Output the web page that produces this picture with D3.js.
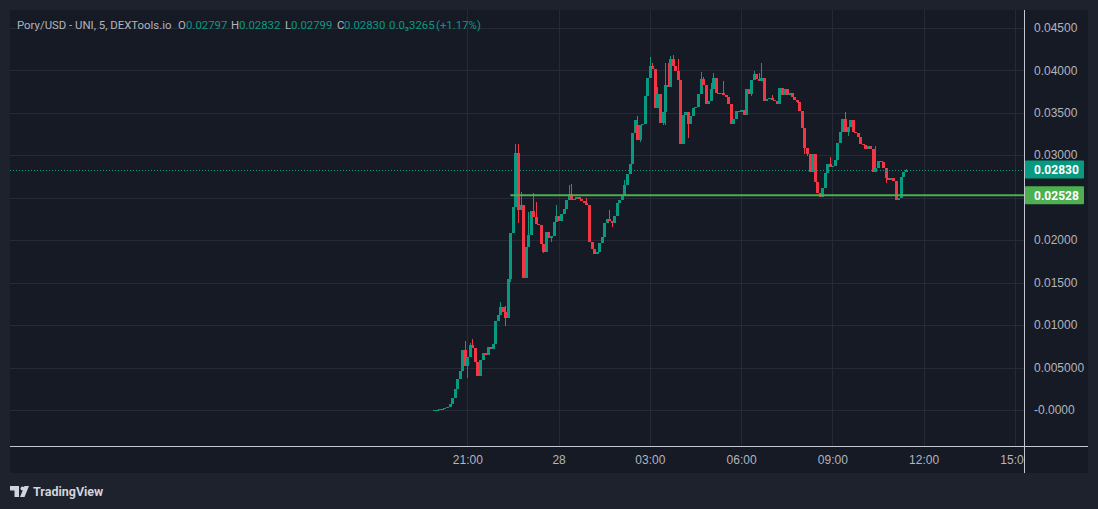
<!DOCTYPE html>
<html>
<head>
<meta charset="utf-8">
<script src="https://cdn.jsdelivr.net/npm/d3@7"></script>
<style>
  html, body { margin: 0; padding: 0; background: #1e222d; }
  svg { display: block; font-family: Roboto, sans-serif; }
</style>
</head>
<body>
<div id="chart"></div>
<script>
// 5 minute bars, first bar at 19:55 on the 27th
const firstBar = new Date(Date.UTC(2024, 0, 27, 19, 55));
const barMinutes = 5;

const opens = [
  0.00000,0.00003,0.00005,0.00008,0.00014,0.00021,0.00041,0.00070,0.00141,0.00247,
  0.00364,0.00458,0.00705,0.00517,0.00623,0.00764,0.00729,0.00564,0.00400,0.00588,
  0.00670,0.00646,0.00740,0.00717,0.00776,0.01046,0.01116,0.01210,0.01152,0.01081,
  0.01539,0.02080,0.02385,0.03020,0.02350,0.02409,0.01551,0.01915,0.02056,0.02338,
  0.02268,0.02186,0.02174,0.01950,0.01857,0.02092,0.02021,0.02044,0.02209,0.02280,
  0.02221,0.02303,0.02362,0.02468,0.02538,0.02468,0.02479,0.02503,0.02479,0.02456,
  0.02432,0.02409,0.01974,0.01892,0.01833,0.01857,0.01962,0.02033,0.02197,0.02244,
  0.02221,0.02197,0.02280,0.02432,0.02468,0.02526,0.02644,0.02773,0.02891,0.03255,
  0.03349,0.03184,0.03349,0.03361,0.03701,0.03913,0.04054,0.04019,0.03549,0.03725,
  0.03384,0.03502,0.03831,0.03807,0.04136,0.04054,0.03995,0.03889,0.03126,0.03478,
  0.03513,0.03361,0.03466,0.03549,0.03572,0.03725,0.03901,0.03831,0.03596,0.03643,
  0.03784,0.03913,0.03737,0.03725,0.03737,0.03713,0.03690,0.03607,0.03372,0.03431,
  0.03525,0.03513,0.03537,0.03478,0.03784,0.03725,0.03889,0.03960,0.03901,0.03878,
  0.03913,0.03643,0.03666,0.03678,0.03654,0.03643,0.03596,0.03795,0.03713,0.03784,
  0.03713,0.03737,0.03690,0.03654,0.03631,0.03525,0.03314,0.03079,0.03008,0.02797,
  0.03008,0.02679,0.02550,0.02503,0.02609,0.02785,0.02891,0.02855,0.02867,0.02938,
  0.03137,0.03267,0.03431,0.03278,0.03337,0.03419,0.03267,0.03255,0.03208,0.03126,
  0.03114,0.03067,0.03102,0.03067,0.02797,0.02844,0.02926,0.02914,0.02844,0.02726,
  0.02703,0.02726,0.02691,0.02468,0.02491,0.02738,0.02797
];

const closes = [
  0.00003,0.00005,0.00008,0.00014,0.00021,0.00041,0.00070,0.00141,0.00247,0.00364,
  0.00458,0.00705,0.00517,0.00623,0.00764,0.00729,0.00564,0.00400,0.00588,0.00670,
  0.00646,0.00740,0.00717,0.00776,0.01046,0.01116,0.01210,0.01152,0.01081,0.01539,
  0.02080,0.02385,0.03020,0.02350,0.02409,0.01551,0.01915,0.02056,0.02338,0.02268,
  0.02186,0.02174,0.01950,0.01857,0.02092,0.02021,0.02044,0.02209,0.02280,0.02221,
  0.02303,0.02362,0.02468,0.02538,0.02468,0.02479,0.02503,0.02479,0.02456,0.02432,
  0.02409,0.01974,0.01892,0.01833,0.01857,0.01962,0.02033,0.02197,0.02244,0.02221,
  0.02197,0.02280,0.02432,0.02468,0.02526,0.02644,0.02773,0.02891,0.03255,0.03419,
  0.03184,0.03349,0.03361,0.03701,0.03913,0.04054,0.04019,0.03549,0.03725,0.03384,
  0.03502,0.03831,0.03807,0.04136,0.04054,0.03995,0.03889,0.03126,0.03478,0.03513,
  0.03361,0.03466,0.03549,0.03572,0.03725,0.03901,0.03831,0.03596,0.03643,0.03784,
  0.03913,0.03737,0.03725,0.03737,0.03713,0.03690,0.03607,0.03372,0.03431,0.03525,
  0.03513,0.03537,0.03478,0.03784,0.03725,0.03889,0.03960,0.03901,0.03878,0.03913,
  0.03643,0.03666,0.03678,0.03654,0.03643,0.03596,0.03795,0.03713,0.03784,0.03713,
  0.03737,0.03690,0.03654,0.03631,0.03525,0.03314,0.03079,0.03008,0.02797,0.03008,
  0.02679,0.02550,0.02503,0.02609,0.02785,0.02891,0.02855,0.02867,0.02938,0.03137,
  0.03267,0.03431,0.03278,0.03337,0.03419,0.03267,0.03255,0.03208,0.03126,0.03114,
  0.03067,0.03102,0.03067,0.02797,0.02844,0.02926,0.02914,0.02844,0.02726,0.02703,
  0.02726,0.02691,0.02468,0.02491,0.02738,0.02797,0.02830
];

// wick extremes; null = no wick beyond the body
const highs = [
  null,null,null,null,null,null,null,null,null,null,
  null,null,0.00811,null,0.00787,0.00834,null,null,null,null,
  null,null,null,null,null,null,0.01269,null,0.01222,null,
  null,null,0.03126,0.03126,0.02561,null,null,0.02327,null,0.02550,
  0.02444,null,null,null,null,null,null,null,0.02409,null,
  null,null,null,0.02644,0.02656,null,null,null,null,null,
  0.02491,null,null,null,null,null,null,null,null,0.02350,
  null,null,null,null,null,0.02703,null,null,null,null,
  0.03455,null,null,null,null,0.04160,0.04089,null,0.03807,null,
  null,0.04089,0.04089,0.04171,0.04183,null,0.04136,null,null,null,
  null,null,null,null,null,0.03983,0.03925,null,null,0.03854,
  0.03972,null,null,null,0.03878,null,null,null,null,null,
  null,null,null,null,null,null,0.03995,null,0.03972,0.04089,
  null,null,null,0.03713,null,null,null,null,null,null,
  null,null,null,null,null,null,null,null,null,null,
  null,null,null,null,null,null,0.02973,null,null,null,
  null,null,0.03502,null,null,null,null,null,null,null,
  null,null,null,null,0.03102,null,null,null,null,null,
  null,null,null,null,null,null,0.02832
];

const lows = [
  null,null,null,null,null,null,null,null,null,null,
  null,null,null,0.00376,null,null,null,null,null,null,
  null,null,null,null,null,null,null,null,0.00987,null,
  0.01504,null,null,0.02197,null,null,null,null,null,null,
  null,null,null,0.01845,null,null,0.01974,null,null,null,
  null,null,null,null,null,null,null,null,null,null,
  null,null,null,null,null,null,null,null,null,null,
  0.02150,null,null,null,null,null,null,null,null,null,
  0.03173,0.03149,null,null,null,null,null,null,null,null,
  0.03349,0.03349,null,null,null,null,null,null,null,null,
  0.03196,null,null,null,null,null,null,null,null,null,
  null,null,null,null,null,null,null,null,0.03361,null,
  null,null,null,null,null,0.03701,null,null,null,null,
  null,null,null,null,null,null,null,null,null,null,
  null,null,null,0.03619,null,null,0.03008,0.02984,null,null,
  null,null,null,null,null,null,null,null,null,null,
  null,null,null,0.03231,null,null,null,null,null,null,
  null,null,null,null,null,null,null,null,0.02667,null,
  null,null,null,null,null,null,0.02797
];

const priceTicks = [0, 0.005, 0.01, 0.015, 0.02, 0.025, 0.03, 0.035, 0.04, 0.045];
// the 0.02500 label sits under the level tag, so it is left blank
const priceTickLabels = ["-0.0000", "0.005000", "0.01000", "0.01500", "0.02000", "", "0.03000", "0.03500", "0.04000", "0.04500"];
const timeTicks = ["2024-01-27T21:00Z", "2024-01-28T00:00Z", "2024-01-28T03:00Z", "2024-01-28T06:00Z", "2024-01-28T09:00Z", "2024-01-28T12:00Z", "2024-01-28T15:00Z"];
const timeTickLabels = ["21:00", "28", "03:00", "06:00", "09:00", "12:00", "15:00"];

const lastPrice = 0.02830;
const levelPrice = 0.02528;
const levelStart = "2024-01-27T22:25Z";

// legend as printed on the chart
const symbolLabel = "Pory/USD - UNI, 5, DEXTools.io";
const legendKeys = ["O", "H", "L", "C"];
const legendValues = ["0.02797", "0.02832", "0.02799", "0.02830"];
const legendChange = "0.0\u20833265";
const legendPercent = "(+1.17%)";

const upColor = "#089981", downColor = "#f23645";
const gridColor = "#262a36", textColor = "#b2b5be";

const width = 1098, height = 509;
const plot = { left: 10, top: 10, right: 1024, bottom: 446 };

const svg = d3.select("#chart").append("svg")
  .attr("width", width)
  .attr("height", height);

svg.append("rect").attr("width", width).attr("height", height).attr("fill", "#1e222d");
// chart panel (plot + axes)
svg.append("rect")
  .attr("x", 10).attr("y", 10).attr("width", 1078).attr("height", 463)
  .attr("fill", "#161a25");

const midnight = new Date(Date.UTC(2024, 0, 28, 0, 0));
const xScale = d3.scaleUtc()
  .domain([d3.utcMinute.offset(midnight, -1082), d3.utcMinute.offset(midnight, 918.5)])
  .range([plot.left, plot.right]);

const yScale = d3.scaleLinear()
  .domain([0, 0.045])
  .range([410, 27.7]);

const candles = closes.map((c, i) => ({
  time: d3.utcMinute.offset(firstBar, i * barMinutes),
  open: opens[i],
  close: c,
  high: highs[i] ?? Math.max(opens[i], c),
  low: lows[i] ?? Math.min(opens[i], c)
}));

svg.append("clipPath").attr("id", "plot-clip")
  .append("rect")
  .attr("x", plot.left).attr("y", plot.top)
  .attr("width", plot.right - plot.left).attr("height", plot.bottom - plot.top);

// grid
const grid = svg.append("g").attr("clip-path", "url(#plot-clip)").attr("shape-rendering", "crispEdges");
grid.selectAll(".hgrid")
  .data(priceTicks)
  .join("line")
    .attr("class", "hgrid")
    .attr("x1", plot.left).attr("x2", plot.right)
    .attr("y1", d => Math.round(yScale(d)) + 0.5)
    .attr("y2", d => Math.round(yScale(d)) + 0.5)
    .attr("stroke", gridColor);
grid.selectAll(".vgrid")
  .data(timeTicks.map(d => new Date(d)))
  .join("line")
    .attr("class", "vgrid")
    .attr("y1", plot.top).attr("y2", plot.bottom)
    .attr("x1", d => Math.round(xScale(d)) + 0.5)
    .attr("x2", d => Math.round(xScale(d)) + 0.5)
    .attr("stroke", gridColor);

// candles
const bars = svg.append("g").attr("clip-path", "url(#plot-clip)").attr("shape-rendering", "crispEdges");
bars.selectAll(".wick")
  .data(candles)
  .join("rect")
    .attr("class", "wick")
    .attr("x", d => Math.round(xScale(d.time)))
    .attr("y", d => yScale(d.high))
    .attr("width", 1)
    .attr("height", d => Math.max(1, yScale(d.low) - yScale(d.high)))
    .attr("fill", d => d.close >= d.open ? upColor : downColor);
bars.selectAll(".body")
  .data(candles)
  .join("rect")
    .attr("class", "body")
    .attr("x", d => Math.round(xScale(d.time)) - 1)
    .attr("y", d => yScale(Math.max(d.open, d.close)))
    .attr("width", 2.6)
    .attr("height", d => Math.max(1, Math.abs(yScale(d.open) - yScale(d.close))))
    .attr("fill", d => d.close >= d.open ? upColor : downColor);

// horizontal level line and last price line
svg.append("line")
  .attr("x1", xScale(new Date(levelStart))).attr("x2", plot.right)
  .attr("y1", yScale(levelPrice)).attr("y2", yScale(levelPrice))
  .attr("stroke", "#4caf50").attr("stroke-width", 2);
svg.append("line")
  .attr("x1", plot.left).attr("x2", plot.right)
  .attr("y1", Math.round(yScale(lastPrice)) + 0.5).attr("y2", Math.round(yScale(lastPrice)) + 0.5)
  .attr("stroke", upColor).attr("stroke-dasharray", "1,2");

// price axis
const yAxis = svg.append("g")
  .attr("transform", `translate(${plot.right},0)`)
  .call(d3.axisRight(yScale).tickValues(priceTicks).tickFormat((d, i) => priceTickLabels[i]).tickSize(0).tickPadding(10));
yAxis.select(".domain").remove();
yAxis.selectAll("text").attr("fill", textColor).attr("font-size", 12).attr("font-family", null);

// time axis, last label clipped at the price axis edge
svg.append("clipPath").attr("id", "label-clip")
  .append("rect").attr("x", plot.left).attr("y", -10).attr("width", plot.right - plot.left).attr("height", 40);
const xAxis = svg.append("g")
  .attr("transform", `translate(0,${plot.bottom})`)
  .attr("clip-path", "url(#label-clip)")
  .call(d3.axisBottom(xScale).tickValues(timeTicks.map(d => new Date(d))).tickFormat((d, i) => timeTickLabels[i]).tickSize(0).tickPadding(9));
xAxis.select(".domain").remove();
xAxis.selectAll("text").attr("fill", textColor).attr("font-size", 12).attr("font-family", null);

// axis borders
svg.append("line")
  .attr("x1", plot.left).attr("x2", 1088)
  .attr("y1", plot.bottom + 0.5).attr("y2", plot.bottom + 0.5)
  .attr("stroke", "#c3c6ce");
svg.append("line")
  .attr("x1", plot.right + 0.5).attr("x2", plot.right + 0.5)
  .attr("y1", plot.top).attr("y2", 473)
  .attr("stroke", "#c3c6ce");

// price labels on the axis
function priceTag(value, color) {
  const y = yScale(value);
  svg.append("rect")
    .attr("x", plot.right + 1).attr("y", y - 9)
    .attr("width", 59).attr("height", 18)
    .attr("rx", 1)
    .attr("fill", color);
  svg.append("text")
    .attr("x", plot.right + 10).attr("y", y + 4.5)
    .attr("fill", "#ffffff").attr("font-size", 12).attr("font-weight", "bold")
    .text(value.toFixed(5));
}
priceTag(lastPrice, upColor);
priceTag(levelPrice, "#4caf50");

// legend line
const legend = svg.append("g").attr("font-size", 11.4);
function legendText(x, str, color) {
  legend.append("text").attr("x", x).attr("y", 29).attr("fill", color).text(str);
}
legendText(17, symbolLabel, "#b2b5be");
const keyX = [178, 231, 285, 337];
const valueX = [186, 239, 291, 344];
legendKeys.forEach((k, i) => {
  legendText(keyX[i], k, "#b2b5be");
  legendText(valueX[i], legendValues[i], upColor);
});
legendText(389, legendChange, upColor);
legendText(436, legendPercent, upColor);

// footer logo
const logo = svg.append("g").attr("fill", "#d1d4dc");
logo.append("path").attr("d", "M10,486 h9 v11 h-4.5 v-6.5 h-4.5 z");
logo.append("circle").attr("cx", 22.5).attr("cy", 488.5).attr("r", 2);
logo.append("path").attr("d", "M24.5,486 h4.5 l-4.5,11 h-4.5 z");
svg.append("text")
  .attr("x", 33).attr("y", 496)
  .attr("fill", "#d1d4dc").attr("font-size", 12.5).attr("font-weight", "bold")
  .text("TradingView");
</script>
</body>
</html>
